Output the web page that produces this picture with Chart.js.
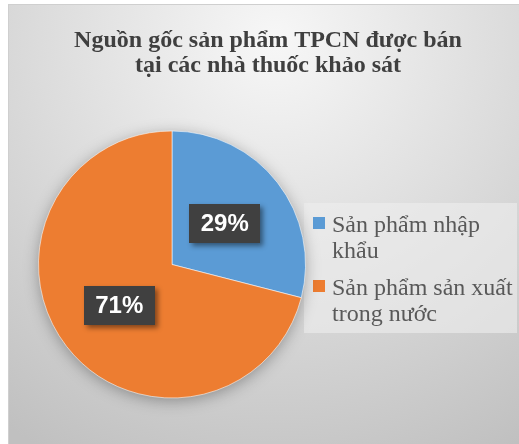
<!DOCTYPE html>
<html><head><meta charset="utf-8">
<script src="https://cdn.jsdelivr.net/npm/chart.js@4/dist/chart.umd.min.js"></script>
<style>html,body{margin:0;padding:0;background:#fff}#wrap{position:relative;width:519px;height:444px}</style>
</head><body><div id="wrap"><canvas id="c"></canvas></div>
<script>
const titleLines = ['Nguồn gốc sản phẩm TPCN được bán', 'tại các nhà thuốc khảo sát'];
const categories = ['Sản phẩm nhập khẩu', 'Sản phẩm sản xuất trong nước'];
const legendLines = [['Sản phẩm nhập', 'khẩu'], ['Sản phẩm sản xuất', 'trong nước']];
const values = [29, 71];
const colors = ['#5B9BD5', '#ED7D31'];

const SERIF = '"Liberation Serif", "Times New Roman", serif';
const SANS = '"Liberation Sans", Arial, sans-serif';

const backgroundPlugin = {
  id: 'bg',
  beforeDraw(chart) {
    const ctx = chart.ctx;
    const W = chart.width, H = chart.height;
    ctx.save();
    ctx.fillStyle = '#ffffff';
    ctx.fillRect(0, 0, W, H);
    const g = ctx.createRadialGradient(275, 40, 0, 275, 40, 470);
    g.addColorStop(0, '#f7f7f7');
    g.addColorStop(0.5, '#dcdcdc');
    g.addColorStop(1, '#c0c0c0');
    ctx.fillStyle = g;
    ctx.fillRect(8, 4, W - 8, H - 4);
    ctx.strokeStyle = '#cfcfcf';
    ctx.lineWidth = 1;
    ctx.strokeRect(8.5, 4.5, W, H);
    // title
    ctx.fillStyle = '#3f3f3f';
    ctx.font = 'bold 24px ' + SERIF;
    ctx.textAlign = 'center';
    ctx.textBaseline = 'alphabetic';
    ctx.fillText(titleLines[0], 268, 47);
    ctx.fillText(titleLines[1], 268, 72);
    // legend box
    ctx.fillStyle = 'rgba(238,238,238,0.6)';
    ctx.fillRect(304, 203, 213, 130);
    ctx.font = '24px ' + SERIF;
    ctx.textAlign = 'left';
    const tops = [232, 295];
    legendLines.forEach((lines, i) => {
      ctx.fillStyle = colors[i];
      ctx.fillRect(313, tops[i] - 15, 12, 12);
      ctx.fillStyle = '#595959';
      lines.forEach((t, j) => ctx.fillText(t, 332, tops[i] + j * 26));
    });
    ctx.restore();
  },
  beforeDatasetsDraw(chart) {
    const arc = chart.getDatasetMeta(0).data[0];
    if (!arc) return;
    const ctx = chart.ctx;
    ctx.save();
    ctx.shadowColor = 'rgba(0,0,0,0.35)';
    ctx.shadowBlur = 16;
    ctx.shadowOffsetY = 3;
    ctx.fillStyle = '#c9c9c9';
    ctx.beginPath();
    ctx.arc(arc.x, arc.y, arc.outerRadius - 1, 0, Math.PI * 2);
    ctx.fill();
    ctx.restore();
  },
  afterDatasetsDraw(chart) {
    const ctx = chart.ctx;
    const total = values.reduce((a, b) => a + b, 0);
    chart.getDatasetMeta(0).data.forEach((arc, i) => {
      const p = arc.tooltipPosition();
      const text = Math.round(values[i] / total * 100) + '%';
      const bw = 71, bh = 39;
      ctx.save();
      ctx.shadowColor = 'rgba(0,0,0,0.45)';
      ctx.shadowBlur = 5;
      ctx.shadowOffsetX = 3;
      ctx.shadowOffsetY = 3;
      ctx.fillStyle = '#404040';
      ctx.fillRect(Math.round(p.x - bw / 2), Math.round(p.y - bh / 2), bw, bh);
      ctx.restore();
      ctx.save();
      ctx.fillStyle = '#ffffff';
      ctx.font = 'bold 24px ' + SANS;
      ctx.textAlign = 'center';
      ctx.textBaseline = 'middle';
      ctx.fillText(text, p.x, p.y + 1);
      ctx.restore();
    });
  }
};

new Chart(document.getElementById('c'), {
  type: 'pie',
  data: {
    labels: categories,
    datasets: [{
      data: values,
      backgroundColor: colors,
      borderColor: 'rgba(255,255,255,0.55)',
      borderWidth: 1
    }]
  },
  options: {
    responsive: true,
    maintainAspectRatio: false,
    devicePixelRatio: 1,
    animation: false,
    layout: { padding: { left: 38, right: 213, top: 130, bottom: 45 } },
    plugins: {
      legend: { display: false },
      title: { display: false },
      tooltip: { enabled: false }
    }
  },
  plugins: [backgroundPlugin]
});
</script>
</body></html>
